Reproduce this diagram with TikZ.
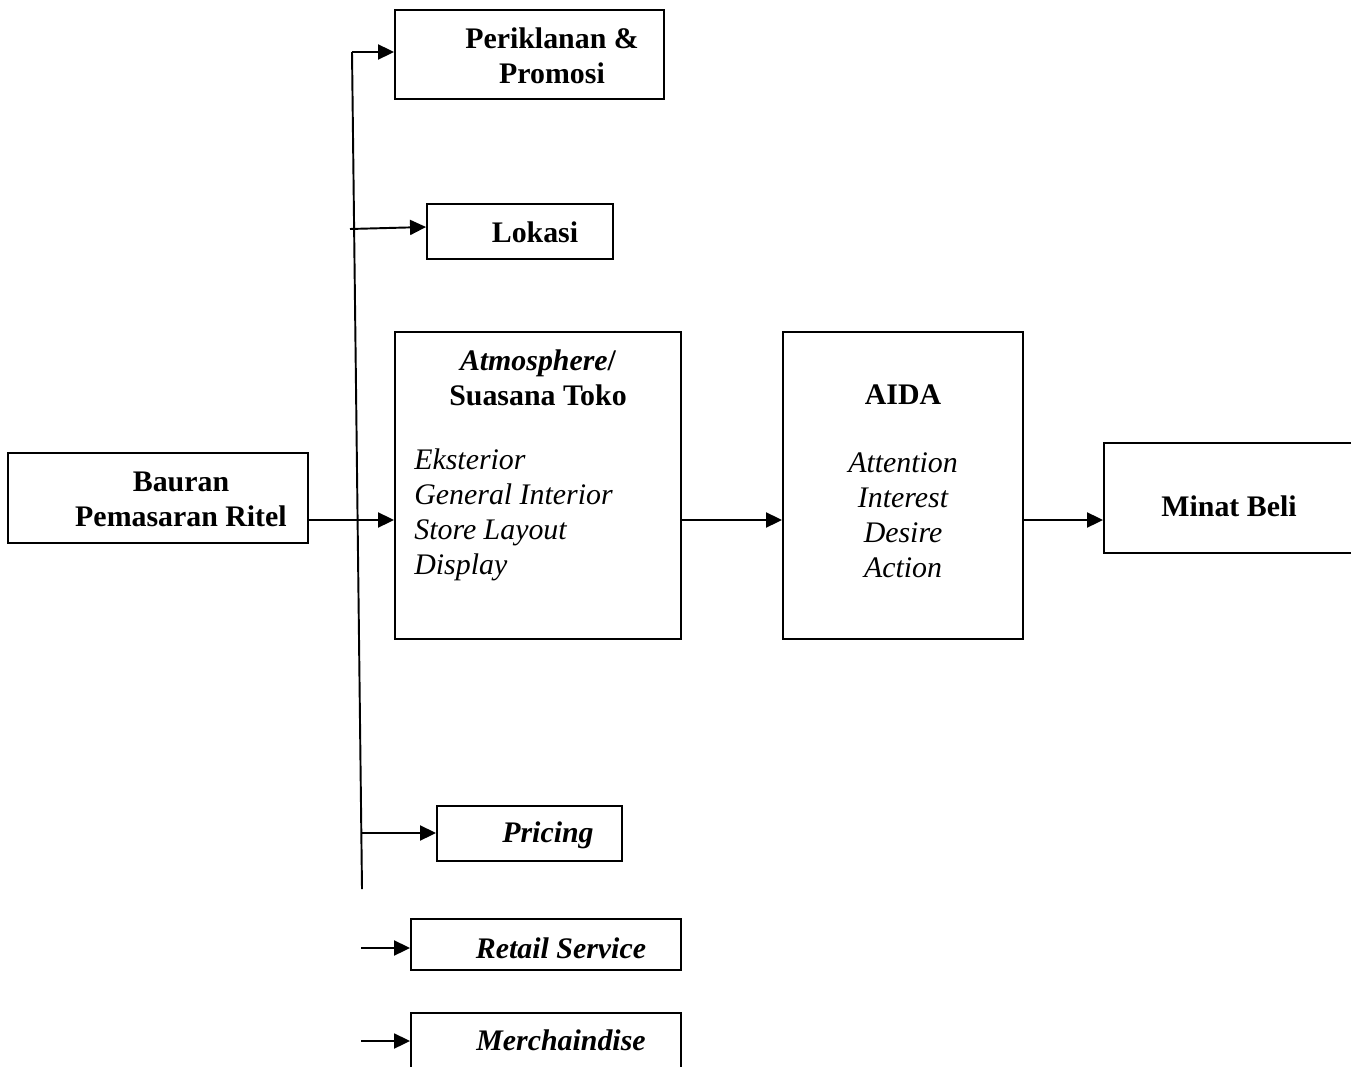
\documentclass[tikz,border=0pt]{standalone}
\usepackage{fontspec}
\setmainfont{Liberation Serif}
\usetikzlibrary{arrows.meta}
\begin{document}
\begin{tikzpicture}[x=0.02cm, y=-0.02cm,
  box/.style={draw, line width=1.1pt, inner sep=0pt},
  txt/.style={font=\fontsize{17}{19.9}\selectfont\bfseries, align=center},
  itm/.style={font=\fontsize{17}{19.9}\selectfont\itshape},
  arr/.style={line width=1.1pt, -{Triangle[length=0.32cm, width=0.3cm]}}]
  \useasboundingbox (0,0) rectangle (1351,1067);
  % Boxes
  \node[box, minimum width=6.0cm, minimum height=1.8cm] (bauran) at (158,498) {};
  \node[box, minimum width=5.38cm, minimum height=1.78cm] (iklan) at (529.5,54.5) {};
  \node[box, minimum width=3.72cm, minimum height=1.1cm] (lokasi) at (520,231.5) {};
  \node[box, minimum width=5.72cm, minimum height=6.14cm] (atmos) at (538,485.5) {};
  \node[box, minimum width=4.8cm, minimum height=6.14cm] (aida) at (903,485.5) {};
  \node[box, minimum width=5.12cm, minimum height=2.2cm] (minat) at (1232,498) {};
  \node[box, minimum width=3.7cm, minimum height=1.1cm] (price) at (529.5,833.5) {};
  \node[box, minimum width=5.4cm, minimum height=1.02cm] (retail) at (546,944.5) {};
  \node[box, minimum width=5.4cm, minimum height=1.34cm] (merch) at (546,1046.5) {};
  % Texts
  \node[txt] (baurant) at (181,499) {Bauran\\Pemasaran Ritel};
  \node[txt] (iklant) at (552,55.5) {Periklanan \&\\Promosi};
  \node[txt] (lokasit) at (535,232) {Lokasi};
  \node[txt] (atmost) at (538,377.5) {\textit{Atmosphere}/\\Suasana Toko};
  \node[itm, align=left, anchor=west, inner xsep=0pt] (atmosl) at (414,515) {Eksterior\\General Interior\\Store Layout\\Display};
  \node[txt] (aidat) at (903,394.5) {AIDA};
  \node[itm, align=center] (aidal) at (903,515) {Attention\\Interest\\Desire\\Action};
  \node[txt] (minatt) at (1229,506.5) {Minat Beli};
  \node[txt] (pricet) at (548,835.5) {\textit{Pricing}};
  \node[txt] (retailt) at (561,948.5) {\textit{Retail Service}};
  \node[txt] (mercht) at (561,1040.5) {\textit{Merchaindise}};
  % Branch line
  \coordinate (top) at (352,52);
  \coordinate (bot) at (362,889);
  \draw[line width=1.1pt] (top) -- (bot);
  \draw[arr] (top) -- (iklan.west |- top);
  \coordinate (lk) at (350,229);
  \coordinate (lkend) at (0,227);
  \draw[arr] (lk) -- (lokasi.west |- lkend);
  % Main flow
  \coordinate (jn) at (356,520);
  \draw[arr] (bauran.east |- jn) -- (atmos.west |- jn);
  \draw[arr] (atmos.east |- jn) -- (aida.west |- jn);
  \draw[arr] (aida.east |- jn) -- (minat.west |- jn);
  % Lower branches
  \coordinate (pc) at (361,833);
  \draw[arr] (pc) -- (price.west |- pc);
  \coordinate (rs) at (361,948);
  \draw[arr] (rs) -- (retail.west |- rs);
  \coordinate (mc) at (361,1041);
  \draw[arr] (mc) -- (merch.west |- mc);
\end{tikzpicture}
\end{document}
